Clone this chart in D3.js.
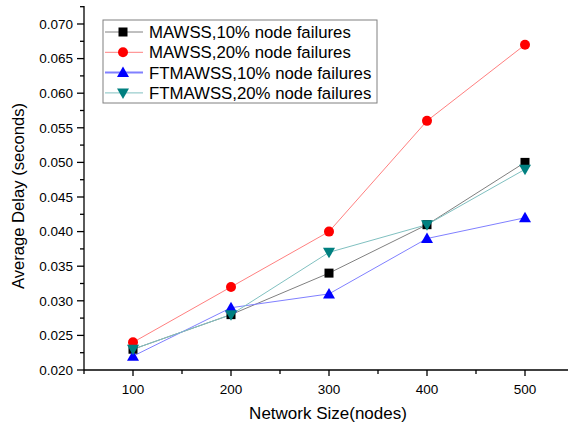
<!DOCTYPE html>
<html>
<head>
<meta charset="utf-8">
<script src="https://cdnjs.cloudflare.com/ajax/libs/d3/7.8.5/d3.min.js"></script>
<style>
  body { margin:0; padding:0; background:#fff; }
  svg { display:block; font-family:"Liberation Sans", Arial, sans-serif; }
  .axis path, .axis line { stroke:#000; stroke-width:1.3; }
  .axis text { font-size:13.5px; fill:#000; }
</style>
</head>
<body>
<svg width="568" height="428"></svg>
<script>
// data
var sizes = [100, 200, 300, 400, 500];
var mawss10 = [0.023, 0.028, 0.034, 0.041, 0.050];
var mawss20 = [0.024, 0.032, 0.040, 0.056, 0.067];
var ftmawss10 = [0.022, 0.029, 0.031, 0.039, 0.042];
var ftmawss20 = [0.023, 0.028, 0.037, 0.041, 0.049];
var seriesNames = ["MAWSS,10% node failures", "MAWSS,20% node failures",
                   "FTMAWSS,10% node failures", "FTMAWSS,20% node failures"];
var xTicks = [100, 200, 300, 400, 500];
var yTicks = [0.020, 0.025, 0.030, 0.035, 0.040, 0.045, 0.050, 0.055, 0.060, 0.065, 0.070];

var series = [
  {name: seriesNames[0], values: mawss10, line: "#808080", fill: "#000000", shape: "square"},
  {name: seriesNames[1], values: mawss20, line: "#ff8080", fill: "#ff0000", shape: "circle"},
  {name: seriesNames[2], values: ftmawss10, line: "#8080ff", fill: "#0000ff", shape: "up"},
  {name: seriesNames[3], values: ftmawss20, line: "#80c0c0", fill: "#008080", shape: "down"}
];

var svg = d3.select("svg");

var x = d3.scaleLinear().domain([50, 550]).range([84, 574]);
var y = d3.scaleLinear().domain([0.020, 0.0726]).range([370, 6]);

// x axis
var xAxis = svg.append("g").attr("class", "axis")
  .attr("transform", "translate(0,370)");
xAxis.append("line").attr("x1", 84).attr("x2", 568).attr("y1", 0).attr("y2", 0);
xAxis.selectAll(".minor").data(d3.range(50, 550, 50)).enter().append("line")
  .attr("x1", function(d) { return x(d); }).attr("x2", function(d) { return x(d); })
  .attr("y1", 0).attr("y2", function(d) { return d % 100 === 0 ? 6 : 4; });
xAxis.selectAll("text").data(xTicks).enter().append("text")
  .attr("x", function(d) { return x(d); }).attr("y", 24)
  .attr("text-anchor", "middle")
  .text(function(d) { return d; });

// y axis
var yAxis = svg.append("g").attr("class", "axis");
yAxis.append("line").attr("x1", 84).attr("x2", 84).attr("y1", 6).attr("y2", 370);
yAxis.selectAll(".minor").data(d3.range(0.020, 0.0726, 0.0025)).enter().append("line")
  .attr("y1", function(d) { return y(d); }).attr("y2", function(d) { return y(d); })
  .attr("x1", function(d, i) { return i % 2 === 0 ? 77 : 80; }).attr("x2", 84);
yAxis.selectAll("text").data(yTicks).enter().append("text")
  .attr("x", 73).attr("y", function(d) { return y(d); })
  .attr("dy", "0.35em").attr("text-anchor", "end")
  .text(function(d) { return d3.format(".3f")(d); });

svg.append("text")
  .attr("transform", "translate(24,196) rotate(-90)")
  .attr("text-anchor", "middle")
  .style("font-size", "16.6px")
  .text("Average Delay (seconds)");

svg.append("text")
  .attr("x", 328).attr("y", 419)
  .attr("text-anchor", "middle")
  .style("font-size", "17px")
  .text("Network Size(nodes)");

function marker(g, shape, fill) {
  if (shape === "square") {
    g.append("rect").attr("x", -4.5).attr("y", -4.5).attr("width", 9).attr("height", 9).attr("fill", fill);
  } else if (shape === "circle") {
    g.append("circle").attr("r", 5).attr("fill", fill);
  } else if (shape === "up") {
    g.append("path").attr("d", "M0,-6L6,4.5L-6,4.5Z").attr("fill", fill);
  } else {
    g.append("path").attr("d", "M0,6L6,-4.5L-6,-4.5Z").attr("fill", fill);
  }
}

var line = d3.line()
  .x(function(d, i) { return x(sizes[i]); })
  .y(function(d) { return y(d); });

series.forEach(function(s) {
  svg.append("path").attr("d", line(s.values))
    .attr("fill", "none").attr("stroke", s.line).attr("stroke-width", 1);
});
series.forEach(function(s) {
  s.values.forEach(function(v, i) {
    var g = svg.append("g").attr("transform", "translate(" + x(sizes[i]) + "," + y(v) + ")");
    marker(g, s.shape, s.fill);
  });
});

// legend
var legend = svg.append("g");
legend.append("rect").attr("x", 103).attr("y", 20).attr("width", 274).attr("height", 83)
  .attr("fill", "#fff").attr("stroke", "#808080").attr("stroke-width", 1);
series.forEach(function(s, i) {
  var cy = 32 + i * 20.3;
  legend.append("line").attr("x1", 105).attr("x2", 143).attr("y1", cy).attr("y2", cy)
    .attr("stroke", s.line).attr("stroke-width", i === 2 ? 2 : 1);
  var g = legend.append("g").attr("transform", "translate(123," + cy + ")");
  marker(g, s.shape, s.fill);
  legend.append("text").attr("x", 149).attr("y", cy).attr("dy", "0.36em")
    .style("font-size", "16.8px").text(s.name);
});
</script>
</body>
</html>
